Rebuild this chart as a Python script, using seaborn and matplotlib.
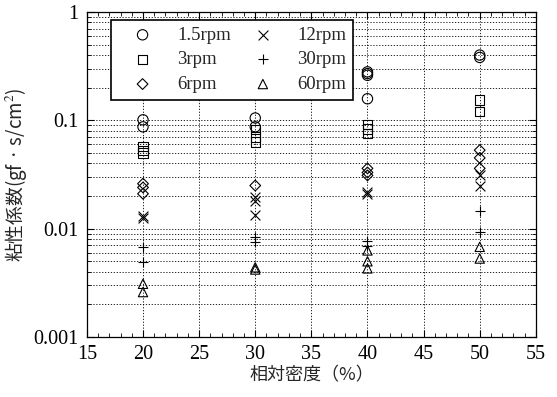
import numpy as np
import pandas as pd
import matplotlib
matplotlib.use("Agg")
import matplotlib.pyplot as plt
import seaborn as sns
from matplotlib.ticker import FixedLocator, FuncFormatter, LogLocator, MultipleLocator, NullFormatter

# data: relative density (%) vs viscosity coefficient
x_15 = [20, 20, 30, 30, 40, 40, 40, 40, 50, 50]
y_15 = [0.101, 0.087, 0.105, 0.087, 0.27, 0.26, 0.28, 0.158, 0.40, 0.38]
x_3 = [20, 20, 20, 30, 30, 30, 40, 40, 40, 50, 50]
y_3 = [0.057, 0.053, 0.050, 0.082, 0.070, 0.063, 0.091, 0.083, 0.076, 0.154, 0.12]
x_6 = [20, 20, 20, 30, 40, 40, 40, 50, 50, 50]
y_6 = [0.026, 0.024, 0.021, 0.025, 0.036, 0.033, 0.031, 0.053, 0.045, 0.036]
x_12 = [20, 20, 30, 30, 30, 40, 40, 50, 50]
y_12 = [0.0132, 0.0125, 0.0195, 0.018, 0.0134, 0.022, 0.021, 0.031, 0.025]
x_30 = [20, 20, 30, 30, 40, 40, 50, 50]
y_30 = [0.0068, 0.0049, 0.0083, 0.0075, 0.0077, 0.0069, 0.0145, 0.0093]
x_60 = [20, 20, 30, 30, 40, 40, 40, 50, 50]
y_60 = [0.0031, 0.0026, 0.0044, 0.0042, 0.0063, 0.0050, 0.0043, 0.0068, 0.0053]

labels = ["1.5rpm", "3rpm", "6rpm", "12rpm", "30rpm", "60rpm"]
xs = [x_15, x_3, x_6, x_12, x_30, x_60]
ys = [y_15, y_3, y_6, y_12, y_30, y_60]
marks = ["o", "s", "D", "x", "+", "^"]
sizes = [55, 45, 30, 50, 60, 45]

sns.set_style("ticks")
plt.rcParams["font.family"] = ["Liberation Serif", "Noto Sans CJK JP"]
plt.rcParams["mathtext.fontset"] = "stix"

fig = plt.figure(figsize=(5.57, 3.97), dpi=100)
ax = fig.add_axes([0.156, 0.151, 0.806, 0.819])

for lab, xv, yv, m, s in zip(labels, xs, ys, marks, sizes):
    df = pd.DataFrame({"x": xv, "y": yv})
    if m in ("x", "+"):
        sns.scatterplot(data=df, x="x", y="y", marker=m, color="black", s=s,
                        linewidth=0.8, ax=ax, label=lab, zorder=3)
    else:
        sns.scatterplot(data=df, x="x", y="y", marker=m, facecolor="none",
                        edgecolor="black", s=s, linewidth=0.8, ax=ax,
                        label=lab, zorder=3)

ax.set_yscale("log")
ax.set_xlim(15, 55)
ax.set_ylim(0.001, 1)

ax.xaxis.set_major_locator(MultipleLocator(5))
ax.xaxis.set_minor_locator(MultipleLocator(1))
ax.yaxis.set_major_locator(FixedLocator([0.001, 0.01, 0.1, 1]))
ax.yaxis.set_major_formatter(FuncFormatter(lambda v, p: f"{v:g}"))
ax.yaxis.set_minor_locator(LogLocator(base=10, subs=np.arange(2, 10)))
ax.yaxis.set_minor_formatter(NullFormatter())

ax.grid(True, which="major", axis="x", color="black", linestyle=(0, (1.5, 2)), linewidth=0.6)
ax.grid(True, which="both", axis="y", color="black", linestyle=(0, (1.5, 2)), linewidth=0.6)
ax.set_axisbelow(True)

ax.tick_params(which="both", direction="in", top=True, right=True, colors="black")
ax.tick_params(which="major", length=5, width=0.8, labelsize=14.5, pad=6)
ax.tick_params(which="minor", length=3, width=0.6)
for sp in ax.spines.values():
    sp.set_color("black")
    sp.set_linewidth(0.9)

ax.set_xlabel("相対密度（%）", fontsize=13, family=["Noto Sans CJK JP"], labelpad=1)
ax.set_ylabel("粘性係数(gf · s/cm$^2$)", fontsize=13.5,
              family=["Noto Sans CJK JP", "DejaVu Sans"], labelpad=3)

leg = ax.legend(ncol=2, loc="upper left", bbox_to_anchor=(0.053, 0.975),
                borderaxespad=0, fontsize=13.5, frameon=True, fancybox=False,
                framealpha=1, edgecolor="black", handletextpad=0.5,
                columnspacing=0.35, labelspacing=0.4, borderpad=0.35,
                handlelength=2.7)
leg.get_frame().set_linewidth(1.2)

fig.savefig("out.png", dpi=100)
